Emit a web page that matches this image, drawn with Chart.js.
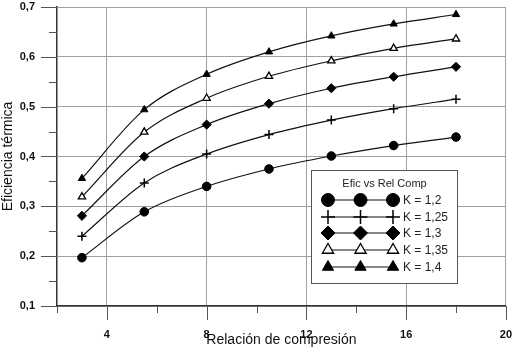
<!DOCTYPE html>
<html><head><meta charset="utf-8">
<script src="https://cdn.jsdelivr.net/npm/chart.js@4/dist/chart.umd.min.js"></script>
<style>html,body{margin:0;padding:0;background:#fff}canvas{display:block}</style>
</head><body>
<canvas id="c" width="513" height="359"></canvas>
<script>
const compressionRatio = [3, 5.5, 8, 10.5, 13, 15.5, 18];
const effK120 = [0.197, 0.289, 0.340, 0.375, 0.401, 0.422, 0.439];
const effK125 = [0.240, 0.347, 0.405, 0.444, 0.473, 0.496, 0.515];
const effK130 = [0.281, 0.400, 0.464, 0.506, 0.537, 0.560, 0.580];
const effK135 = [0.319, 0.449, 0.517, 0.561, 0.592, 0.617, 0.636];
const effK140 = [0.356, 0.494, 0.565, 0.610, 0.642, 0.666, 0.685];
const seriesLabels = ['K = 1,2', 'K = 1,25', 'K = 1,3', 'K = 1,35', 'K = 1,4'];
const xTickValues = [4, 8, 12, 16, 20];
const xMinorTickValues = [2, 6, 10, 14, 18];
const yTickValues = [0.1, 0.2, 0.3, 0.4, 0.5, 0.6, 0.7];
const legendTitle = 'Efic vs Rel Comp';

const FONT = "'Liberation Sans', Arial, sans-serif";
const toPts = arr => arr.map((v, i) => ({x: compressionRatio[i], y: v}));
const styles = [
  {pointStyle: 'circle', bg: '#000', r: 4.3, bw: 1, lr: 6.5},
  {pointStyle: 'cross', bg: '#000', r: 4.5, bw: 1.5, lr: 7},
  {pointStyle: 'rectRot', bg: '#000', r: 4.6, bw: 1, lr: 7},
  {pointStyle: 'triangle', bg: '#fff', r: 4.2, bw: 1.3, lr: 6.5},
  {pointStyle: 'triangle', bg: '#000', r: 4.2, bw: 1, lr: 6.5}
];
const seriesData = [effK120, effK125, effK130, effK135, effK140];

const datasets = seriesData.map((d, i) => ({
  label: seriesLabels[i],
  data: toPts(d),
  borderColor: '#111',
  borderWidth: 1.2,
  cubicInterpolationMode: 'monotone',
  pointStyle: styles[i].pointStyle,
  pointRadius: styles[i].r,
  pointBackgroundColor: styles[i].bg,
  pointBorderColor: '#000',
  pointBorderWidth: styles[i].bw,
  legendRadius: styles[i].lr,
  fill: false
}));

const tickPlugin = {
  id: 'tickMarks',
  afterDraw(chart) {
    const ctx = chart.ctx, xs = chart.scales.x, ys = chart.scales.y;
    const a = chart.chartArea;
    ctx.save();
    ctx.strokeStyle = '#555';
    ctx.lineWidth = 1;
    ctx.beginPath();
    yTickValues.forEach(v => {
      const y = Math.round(ys.getPixelForValue(v)) + 0.5;
      ctx.moveTo(a.left - 16, y); ctx.lineTo(a.left, y);
    });
    for (let i = 0; i < yTickValues.length - 1; i++) {
      const y = Math.round(ys.getPixelForValue((yTickValues[i] + yTickValues[i + 1]) / 2)) + 0.5;
      ctx.moveTo(a.left - 8, y); ctx.lineTo(a.left, y);
    }
    xTickValues.forEach(v => {
      const x = Math.round(xs.getPixelForValue(v)) + 0.5;
      ctx.moveTo(x, a.bottom); ctx.lineTo(x, a.bottom + 14);
    });
    xMinorTickValues.forEach(v => {
      const x = Math.round(xs.getPixelForValue(v)) + 0.5;
      ctx.moveTo(x, a.bottom); ctx.lineTo(x, a.bottom + 7);
    });
    ctx.stroke();
    ctx.restore();
  }
};

const legendPlugin = {
  id: 'customLegend',
  afterDatasetsDraw(chart) {
    const ctx = chart.ctx;
    const bx = 311.5, by = 170.5, bw = 146, bh = 113;
    ctx.save();
    ctx.fillStyle = '#fff';
    ctx.strokeStyle = '#555';
    ctx.lineWidth = 1;
    ctx.fillRect(bx, by, bw, bh);
    ctx.strokeRect(bx, by, bw, bh);
    ctx.fillStyle = '#222';
    ctx.font = '11px ' + FONT;
    ctx.textAlign = 'center';
    ctx.textBaseline = 'middle';
    ctx.fillText(legendTitle, bx + bw / 2, 184);
    const rowY = [200, 217, 233, 250, 267];
    const mx = [328, 360.5, 393];
    chart.data.datasets.forEach((ds, i) => {
      const y = rowY[i];
      ctx.strokeStyle = '#111';
      ctx.lineWidth = 1.2;
      ctx.beginPath(); ctx.moveTo(mx[0], y); ctx.lineTo(mx[2], y); ctx.stroke();
      mx.forEach(x => {
        ctx.fillStyle = ds.pointBackgroundColor;
        ctx.strokeStyle = ds.pointBorderColor;
        ctx.lineWidth = ds.pointBorderWidth;
        Chart.helpers.drawPoint(ctx, {pointStyle: ds.pointStyle, radius: ds.legendRadius, rotation: 0, borderWidth: ds.pointBorderWidth}, x, y);
      });
      ctx.fillStyle = '#222';
      ctx.font = '12px ' + FONT;
      ctx.textAlign = 'left';
      ctx.fillText(ds.label, 403, y + 0.5);
    });
    ctx.restore();
  }
};

new Chart(document.getElementById('c'), {
  type: 'line',
  data: {datasets},
  plugins: [tickPlugin, legendPlugin],
  options: {
    responsive: false,
    animation: false,
    layout: {padding: {top: 7, right: 6, left: 0, bottom: 0}},
    plugins: {legend: {display: false}, tooltip: {enabled: false}},
    scales: {
      x: {
        type: 'linear', min: 2, max: 20,
        afterBuildTicks: s => { s.ticks = xTickValues.map(v => ({value: v})); },
        afterFit: s => { s.height = 53; },
        grid: {color: '#a0a0a0', lineWidth: 1, drawTicks: true, tickLength: 21, tickColor: 'rgba(0,0,0,0)'},
        border: {color: '#333', width: 1.5},
        ticks: {padding: 1, color: '#111', font: {family: FONT, size: 11, weight: 'bold'}, maxRotation: 0},
        title: {display: true, text: 'Relación de compresión', color: '#111', font: {family: FONT, size: 14}, padding: {top: 0, bottom: 10}}
      },
      y: {
        type: 'linear', min: 0.1, max: 0.7,
        afterBuildTicks: s => { s.ticks = yTickValues.map(v => ({value: v})); },
        afterFit: s => { s.width = 57; },
        grid: {color: '#a0a0a0', lineWidth: 1, drawTicks: true, tickLength: 22, tickColor: 'rgba(0,0,0,0)'},
        border: {color: '#333', width: 1.5},
        ticks: {padding: 0, color: '#111', font: {family: FONT, size: 11, weight: 'bold'}, callback: v => v.toFixed(1).replace('.', ',')},
        title: {display: true, text: 'Eficiencia térmica', color: '#111', font: {family: FONT, size: 14}, padding: {top: 0, bottom: 0}}
      }
    }
  }
});
</script>
</body></html>
